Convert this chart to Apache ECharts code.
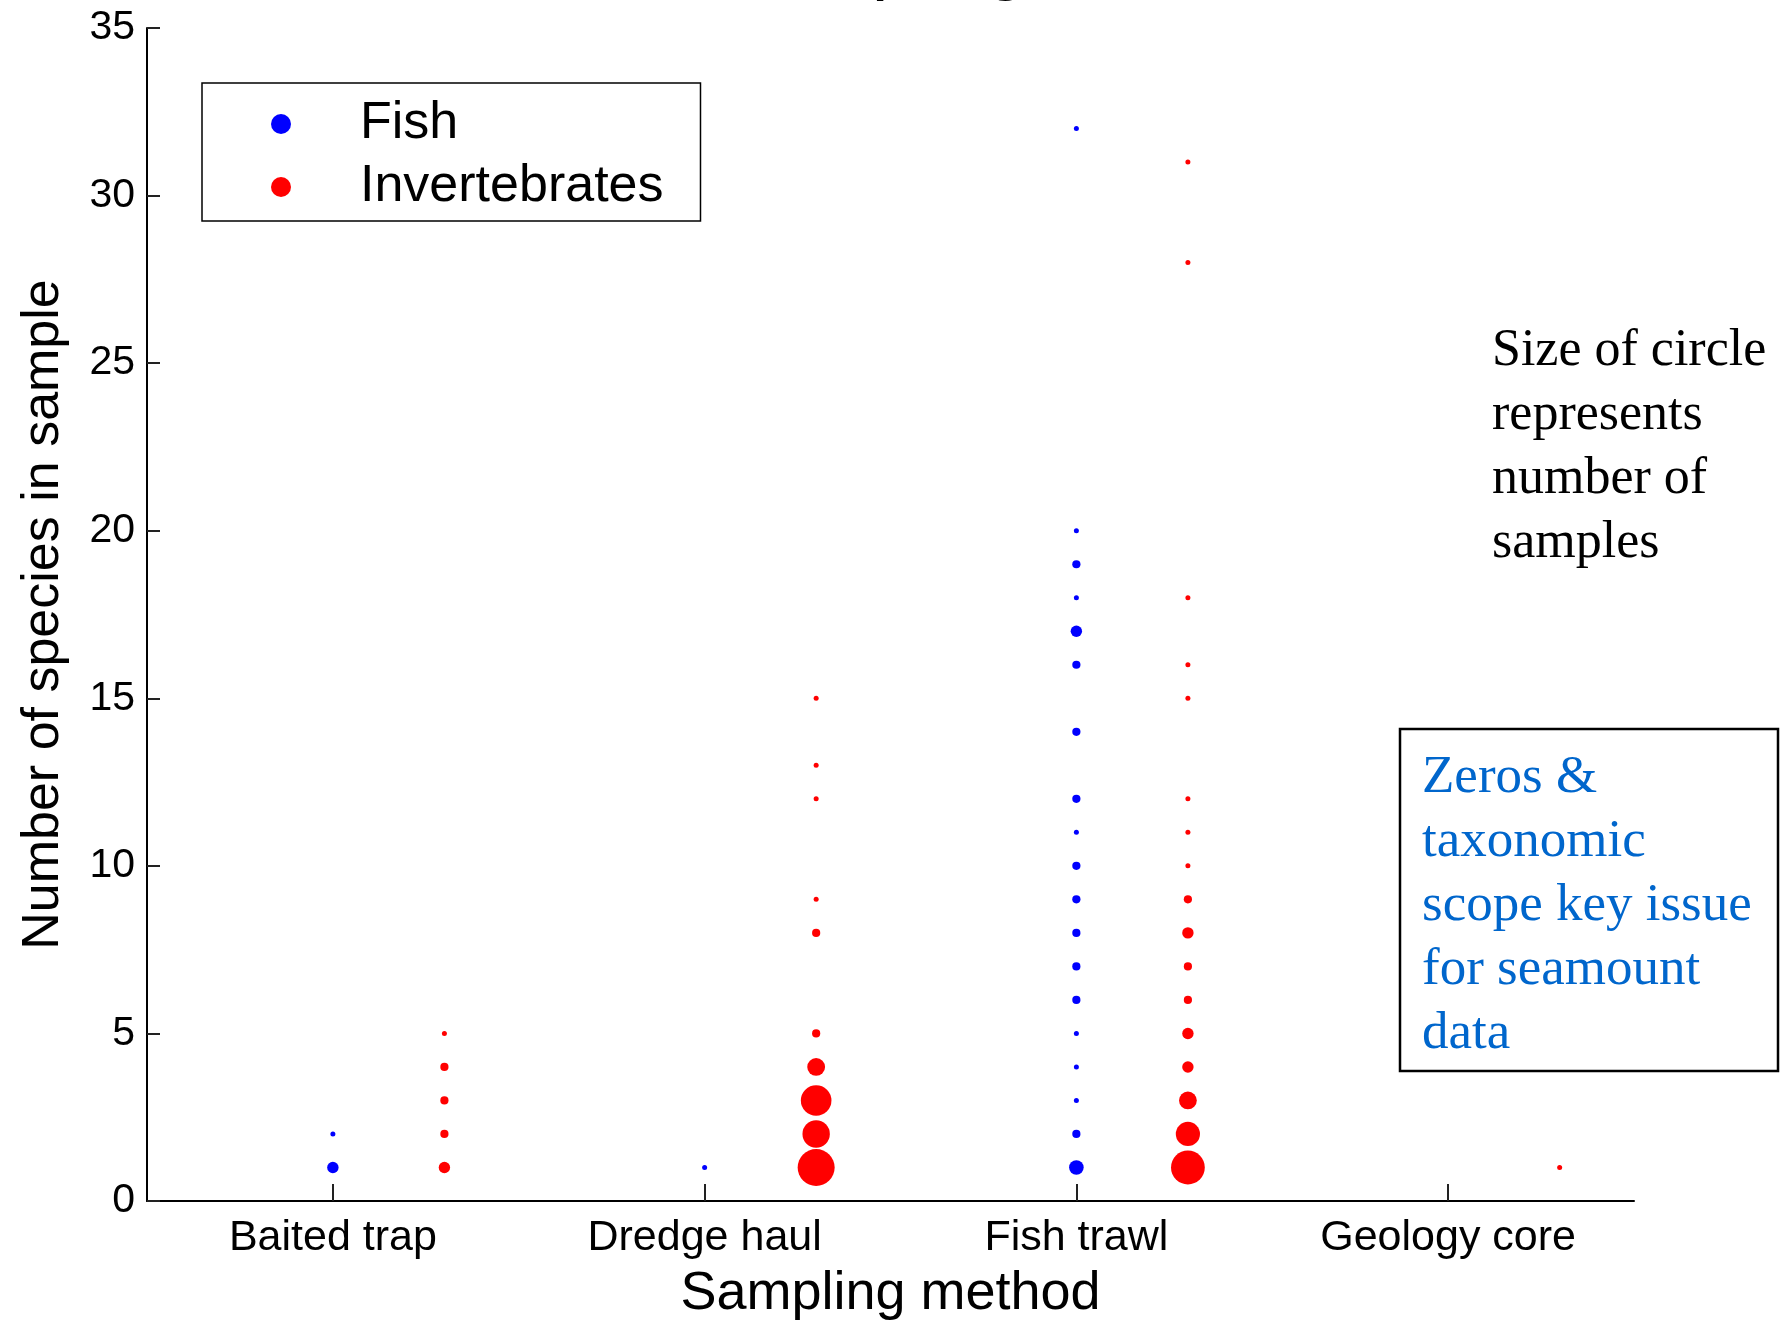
<!DOCTYPE html>
<html>
<head>
<meta charset="utf-8">
<script src="https://cdn.jsdelivr.net/npm/echarts@6/dist/echarts.min.js"></script>
<style>
html,body{margin:0;padding:0;background:#fff;}
#chart{width:1786px;height:1324px;}
</style>
</head>
<body>
<div id="chart"></div>
<script>
const categories = ['Baited trap', 'Dredge haul', 'Fish trawl', 'Geology core'];
const yTicks = [0, 5, 10, 15, 20, 25, 30, 35];

// species counts observed, per sampling method
const fishSpecies = [[1, 2], [1], [1, 2, 3, 4, 5, 6, 7, 8, 9, 10, 11, 12, 14, 16, 17, 18, 19, 20, 32], []];
// number of samples (circle size) for each point above
const fishSamples = [[3, 1], [1], [4, 2, 1, 1, 1, 2, 2, 2, 2, 2, 1, 2, 2, 2, 3, 1, 2, 1, 1], []];

const invSpecies = [[1, 2, 3, 4, 5], [1, 2, 3, 4, 5, 8, 9, 12, 13, 15], [1, 2, 3, 4, 5, 6, 7, 8, 9, 10, 11, 12, 15, 16, 18, 28, 31], [1]];
const invSamples = [[3, 2, 2, 2, 1], [11, 8, 9, 5, 2, 2, 1, 1, 1, 1], [10, 7, 5, 3, 3, 2, 2, 3, 2, 1, 1, 1, 1, 1, 1, 1, 1], [1]];

const fishOffset = 0;
const invOffset = 0.3;

function build(species, samples, offset) {
  const out = [];
  species.forEach((list, ci) => {
    list.forEach((s, k) => out.push([ci + 1 + offset, s, samples[ci][k]]));
  });
  return out;
}
function sizeOf(v) { return 5 + 3.2 * (v[2] - 1); }

const FONT = "'Liberation Sans', Arial, sans-serif";
const SERIF = "'Liberation Serif', 'Times New Roman', serif";

const chart = echarts.init(document.getElementById('chart'), null, {renderer: 'canvas'});
chart.setOption({
  backgroundColor: '#ffffff',
  animation: false,
  grid: {left: 147, right: 152, top: 28, bottom: 123, containLabel: false, outerBoundsMode: 'none'},
  legend: {
    orient: 'vertical',
    left: 202, top: 83,
    padding: [15, 37, 8, 69],
    itemGap: 11,
    itemWidth: 20, itemHeight: 20,
    icon: 'circle',
    borderColor: '#000', borderWidth: 1.5,
    textStyle: {fontFamily: FONT, fontSize: 52, color: '#000', padding: [0, 0, 0, 64], lineHeight: 52},
    data: ['Fish', 'Invertebrates']
  },
  xAxis: {
    type: 'value', min: 0.5, max: 4.5,
    name: 'Sampling method', nameLocation: 'middle', nameGap: 93,
    nameTextStyle: {fontFamily: FONT, fontSize: 54, color: '#000', verticalAlign: 'middle'},
    axisLine: {show: true, lineStyle: {color: '#000', width: 2}},
    axisTick: {show: true, inside: true, length: 17, lineStyle: {color: '#222', width: 2}, customValues: [1, 2, 3, 4]},
    axisLabel: {fontFamily: FONT, fontSize: 43, color: '#000', margin: 16, customValues: [1, 2, 3, 4],
      formatter: v => categories[Math.round(v) - 1] || ''},
    splitLine: {show: false}
  },
  yAxis: {
    type: 'value', min: 0, max: 35, interval: 5,
    name: 'Number of species in sample', nameLocation: 'middle', nameGap: 103, nameRotate: 90,
    nameTextStyle: {fontFamily: FONT, fontSize: 52, color: '#000', verticalAlign: 'middle'},
    axisLine: {show: true, lineStyle: {color: '#000', width: 2}},
    axisTick: {show: true, inside: true, length: 13, lineStyle: {color: '#222', width: 2}},
    axisLabel: {fontFamily: FONT, fontSize: 41, color: '#000', margin: 12,
      formatter: v => (yTicks.indexOf(v) >= 0 ? String(v) : '')},
    splitLine: {show: false}
  },
  series: [
    {name: 'Fish', type: 'scatter', data: build(fishSpecies, fishSamples, fishOffset),
      symbol: 'circle', symbolSize: sizeOf, itemStyle: {color: '#0000ff', opacity: 1}},
    {name: 'Invertebrates', type: 'scatter', data: build(invSpecies, invSamples, invOffset),
      symbol: 'circle', symbolSize: sizeOf, itemStyle: {color: '#ff0000', opacity: 1}}
  ],
  graphic: [
    {type: 'text', left: 722, top: -71, silent: true,
      style: {text: 'Sampling', font: '73px ' + FONT, fill: '#000'}},
    {type: 'text', left: 1492, top: 319, silent: true,
      style: {text: 'Size of circle\nrepresents\nnumber of\nsamples', font: '52px ' + SERIF, fill: '#000', lineHeight: 64}},
    {type: 'rect', shape: {x: 1400, y: 729, width: 378, height: 342}, silent: true,
      style: {fill: 'none', stroke: '#000', lineWidth: 2.5}},
    {type: 'text', left: 1422, top: 746, silent: true,
      style: {text: 'Zeros &\ntaxonomic\nscope key issue\nfor seamount\ndata', font: '53px ' + SERIF, fill: '#0066cc', lineHeight: 64}}
  ]
});
</script>
</body>
</html>
